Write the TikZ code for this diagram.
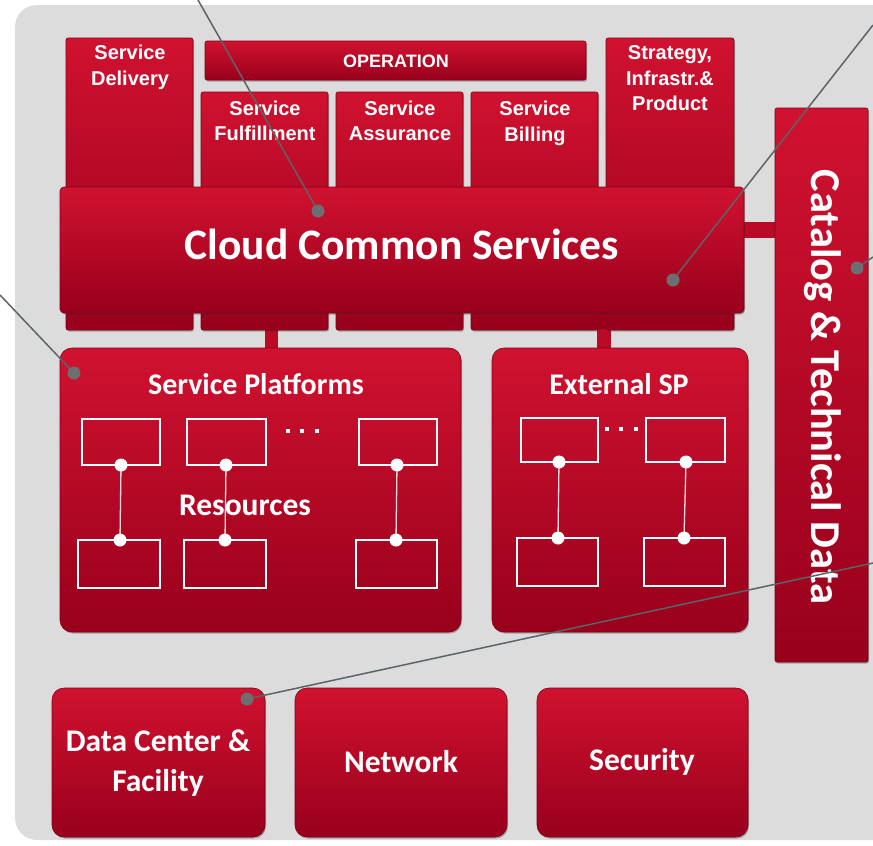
\documentclass[tikz,border=0pt]{standalone}
\usepackage{fontspec}
\setmainfont{Liberation Sans}
\newfontfamily\calfont{Carlito}
\usetikzlibrary{fit,shadows}
\definecolor{bggray}{RGB}{220,220,220}
\definecolor{redtop}{RGB}{208,18,48}
\definecolor{redbot}{RGB}{152,0,28}
\definecolor{redbar}{RGB}{185,10,40}
\definecolor{calloutgray}{RGB}{92,100,104}
\definecolor{dotgray}{RGB}{108,110,112}
\tikzset{
  redbox/.style={draw=redbot!85!black, line width=0.6pt, top color=redtop, bottom color=redbot, rounded corners=2pt, inner sep=0pt,
    drop shadow={opacity=0.35, shadow xshift=1pt, shadow yshift=-1.5pt, fill=black!80}},
  bigbox/.style={redbox, rounded corners=12pt},
  toplabel/.style={text=white, font=\bfseries\fontsize{20}{25.5}\selectfont, align=center, inner sep=0pt},
  oplabel/.style={text=white, font=\bfseries\fontsize{18}{20}\selectfont, inner sep=0pt},
  callabel/.style={text=white, font=\calfont\bfseries\fontsize{#1}{40}\selectfont, align=center, inner sep=0pt},
  resbox/.style={draw=white, line width=1.1pt, fill=none, inner sep=0pt},
  reslink/.style={draw=white!85!red, line width=1.3pt},
  wdot/.style={circle, fill=white, minimum size=13pt, inner sep=0pt},
  tinysq/.style={fill=white, minimum size=4pt, inner sep=0pt},
  callout/.style={draw=calloutgray, line width=1.5pt},
  gdot/.style={circle, fill=dotgray, minimum size=13pt, inner sep=0pt},
  bar/.style={fill=redbar}
}
\begin{document}
\begin{tikzpicture}[x=1pt,y=-1pt]
\useasboundingbox (0,0) rectangle (873,846);
\begin{scope}
  \clip (0,0) rectangle (873,846);
  \fill[bggray, rounded corners=22pt] (15,5) rectangle (910,840);
\end{scope}

% connector bars
\fill[bar] (265,310) rectangle (278,352);
\fill[bar] (597,310) rectangle (611,352);
\fill[bar] (740,222) rectangle (778,238);

% top boxes
\node[redbox, fit={(66,38)(193,330)}] (sd) {};
\node[redbox, fit={(205,41)(586,80)}] (op) {};
\node[redbox, fit={(201,92)(328,330)}] (sf) {};
\node[redbox, fit={(336,92)(463,330)}] (sa) {};
\node[redbox, fit={(471,92)(598,330)}] (sb) {};
\node[redbox, fit={(606,38)(734,330)}] (st) {};
\fill[redbot] (597,313) rectangle (607,329);

\node[toplabel] (sdl) at (130,67.5) {Service\\Delivery};
\node[oplabel] (opl) at (396,61) {OPERATION};
\node[toplabel] (sfl) at (265,121) {Service\\Fulfillment};
\node[toplabel] (sal) at (400,121) {Service\\Assurance};
\node[toplabel] (sbl) at (535,123.5) {Service\\Billing};
\node[toplabel] (stl) at (670,78.5) {Strategy,\\Infrastr.\&\\Product};

% cloud common services
\node[redbox, rounded corners=4pt, fit={(60,187)(744,313)}] (ccs) {};
\node[callabel=43.5] (ccsl) at (402,244) {Cloud Common Services};

% catalog
\node[redbox, fit={(775,108)(868,662)}] (cat) {};
\node[callabel=42.5, rotate=-90] (catl) at (823,387) {Catalog \& Technical Data};

% service platforms
\node[bigbox, fit={(60,348)(461,632)}] (sp) {};
\node[callabel=30] (spl) at (256,384) {Service Platforms};
\node[bigbox, fit={(492,348)(748,632)}] (esp) {};
\node[callabel=30] (espl) at (619,384) {External SP};

% resources
\node[resbox, fit={(82,419)(160,465)}] (r1t) {};
\node[resbox, fit={(187,419)(266,465)}] (r2t) {};
\node[resbox, fit={(359,419)(437,465)}] (r3t) {};
\node[resbox, fit={(78,540)(160,588)}] (r1b) {};
\node[resbox, fit={(184,540)(266,588)}] (r2b) {};
\node[resbox, fit={(356,540)(437,588)}] (r3b) {};
\node[callabel=31.5] (resl) at (245,505) {Resources};
\coordinate (r1s) at (121,465); \coordinate (r1n) at (120,540);
\coordinate (r2s) at (226,465); \coordinate (r2n) at (225,540);
\coordinate (r3s) at (397,465); \coordinate (r3n) at (396,540);
\draw[reslink] (r1s) -- (r1n);
\draw[reslink] (r2s) -- (r2n);
\draw[reslink] (r3s) -- (r3n);
\node[wdot] (d1a) at (r1s) {}; \node[wdot] (d1b) at (r1n) {};
\node[wdot] (d2a) at (r2s) {}; \node[wdot] (d2b) at (r2n) {};
\node[wdot] (d3a) at (r3s) {}; \node[wdot] (d3b) at (r3n) {};
\node[tinysq] (q1) at (288,431) {};
\node[tinysq] (q2) at (302,431) {};
\node[tinysq] (q3) at (317,431) {};

% external SP resources
\node[resbox, fit={(521,418)(598,462)}] (e1t) {};
\node[resbox, fit={(646,418)(725,462)}] (e2t) {};
\node[resbox, fit={(517,538)(598,586)}] (e1b) {};
\node[resbox, fit={(644,538)(725,586)}] (e2b) {};
\coordinate (e1s) at (559,462); \coordinate (e1n) at (558,538);
\coordinate (e2s) at (686,462); \coordinate (e2n) at (684,538);
\draw[reslink] (e1s) -- (e1n);
\draw[reslink] (e2s) -- (e2n);
\node[wdot] (de1a) at (e1s) {}; \node[wdot] (de1b) at (e1n) {};
\node[wdot] (de2a) at (e2s) {}; \node[wdot] (de2b) at (e2n) {};
\node[tinysq] (eq1) at (607,429) {};
\node[tinysq] (eq2) at (621,429) {};
\node[tinysq] (eq3) at (636,429) {};

% bottom row
\node[bigbox, fit={(52,688)(265,837)}] (dc) {};
\node[bigbox, fit={(295,688)(507,837)}] (nw) {};
\node[bigbox, fit={(537,688)(748,837)}] (sec) {};
\node[callabel=31.5] (dcl) at (158,763) {Data Center \&\\Facility};
\node[callabel=31.5] (nwl) at (401,762) {Network};
\node[callabel=31.5] (secl) at (642,762) {Security};

% callouts
\coordinate (c1) at (198,0);
\coordinate (c2) at (873,25);
\coordinate (c3) at (0,295);
\coordinate (c4) at (873,257);
\coordinate (c5) at (873,563);
\draw[callout] (c1) -- (318,211);
\draw[callout] (c2) -- (673,280);
\draw[callout] (c3) -- (74,373);
\draw[callout] (c4) -- (857,268);
\draw[callout] (c5) -- (247,699);
\node[gdot] (g1) at (318,211) {};
\node[gdot] (g2) at (673,280) {};
\node[gdot] (g3) at (74,373) {};
\node[gdot] (g4) at (857,268) {};
\node[gdot] (g5) at (247,699) {};
\end{tikzpicture}
\end{document}
